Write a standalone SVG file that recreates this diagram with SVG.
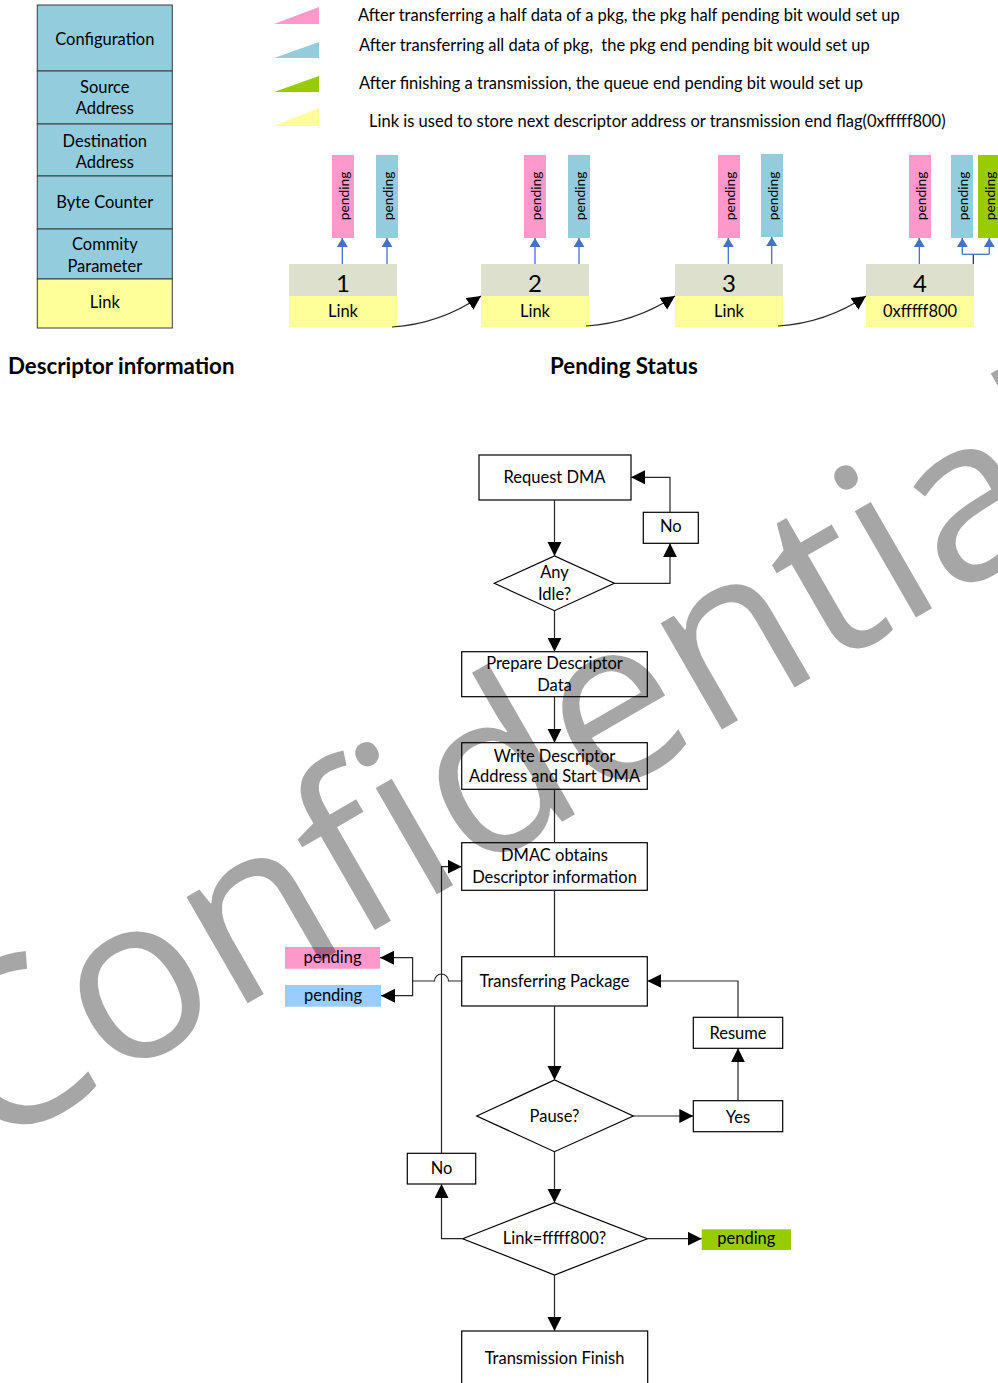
<svg xmlns="http://www.w3.org/2000/svg" width="998" height="1383" viewBox="0 0 998 1383">
<defs>
<style>
.t{font-family:Lato,'Open Sans',sans-serif;font-size:16.5px;fill:#000}
.c{text-anchor:middle}
.pl{font-size:13.8px}
.num{font-size:24px}
.b{font-weight:bold;font-size:22.3px}
.cell{stroke:#3a3a3a;stroke-width:1}
.blu{fill:#93CDDD}
.yel{fill:#FFFF99}
.pnk{fill:#FF99CC}
.grn{fill:#99CC00}
.top{fill:#DDE0CC}
.box{fill:#fff;stroke:#000;stroke-width:1.2}
.ln{fill:none;stroke:#262626;stroke-width:1.2}
.bl{fill:none;stroke:#4472C4;stroke-width:1.3}
.wm{font-family:'Open Sans',Lato,sans-serif;font-size:229px;fill:#000;fill-opacity:0.35}
</style>
<marker id="ah" markerUnits="userSpaceOnUse" markerWidth="15" markerHeight="15" refX="14" refY="7" orient="auto">
<path d="M0,0 L14,7 L0,14 z" fill="#000"/>
</marker>
<marker id="ahb" markerUnits="userSpaceOnUse" markerWidth="12" markerHeight="12" refX="9" refY="5.5" orient="auto">
<path d="M0,0 L9,5.5 L0,11 z" fill="#4472C4"/>
</marker>
</defs>
<rect width="998" height="1383" fill="#fff"/>

<!-- Descriptor table -->
<g id="desc-config"><rect class="cell blu" x="37.3" y="5" width="135" height="66"/><text class="t c" x="104.8" y="45">Configuration</text></g>
<g id="desc-source"><rect class="cell blu" x="37.3" y="71" width="135" height="53"/><text class="t c" x="104.8" y="92.7">Source</text><text class="t c" x="104.8" y="114.3">Address</text></g>
<g id="desc-dest"><rect class="cell blu" x="37.3" y="124" width="135" height="52"/><text class="t c" x="104.8" y="146.7">Destination</text><text class="t c" x="104.8" y="168.3">Address</text></g>
<g id="desc-byte"><rect class="cell blu" x="37.3" y="176" width="135" height="53"/><text class="t c" x="104.8" y="208.3">Byte Counter</text></g>
<g id="desc-commity"><rect class="cell blu" x="37.3" y="229" width="135" height="50"/><text class="t c" x="104.8" y="250">Commity</text><text class="t c" x="104.8" y="271.7">Parameter</text></g>
<g id="desc-link"><rect class="cell yel" x="37.3" y="279" width="135" height="49"/><text class="t c" x="104.8" y="308.3">Link</text></g>
<text class="t b" x="8" y="373.5">Descriptor information</text>

<!-- Legend -->
<g id="legend">
<path class="pnk" d="M274,24 L319,7 L319,24 z"/>
<path class="blu" d="M274,58 L319,42 L319,58 z"/>
<path class="grn" d="M274,92 L319,76 L319,92 z"/>
<path class="yel" d="M274,126 L319,108 L319,126 z"/>
<text class="t" x="358" y="21">After transferring a half data of a pkg, the pkg half pending bit would set up</text>
<text class="t" x="359" y="50.5" xml:space="preserve">After transferring all data of pkg,  the pkg end pending bit would set up</text>
<text class="t" x="359" y="88.5">After finishing a transmission, the queue end pending bit would set up</text>
<text class="t" x="369" y="126.5">Link is used to store next descriptor address or transmission end flag(0xfffff800)</text>
</g>

<!-- Pending status nodes -->
<g id="pkg1">
<rect class="top" x="289" y="264" width="108" height="32"/><rect class="yel" x="289" y="296" width="108" height="31"/>
<text class="t c num" x="343" y="292">1</text><text class="t c" x="343" y="317">Link</text>
<rect class="pnk" x="332" y="155" width="22" height="83"/><text class="t c pl" transform="translate(343,196) rotate(-90)" dominant-baseline="central">pending</text>
<rect class="blu" x="376" y="155" width="22" height="83"/><text class="t c pl" transform="translate(387,196) rotate(-90)" dominant-baseline="central">pending</text>
</g>
<g id="pkg2">
<rect class="top" x="481" y="264" width="108" height="32"/><rect class="yel" x="481" y="296" width="108" height="31"/>
<text class="t c num" x="535" y="292">2</text><text class="t c" x="535" y="317">Link</text>
<rect class="pnk" x="524" y="155" width="22" height="83"/><text class="t c pl" transform="translate(535,196) rotate(-90)" dominant-baseline="central">pending</text>
<rect class="blu" x="568" y="155" width="22" height="83"/><text class="t c pl" transform="translate(579,196) rotate(-90)" dominant-baseline="central">pending</text>
</g>
<g id="pkg3">
<rect class="top" x="675" y="264" width="108" height="32"/><rect class="yel" x="675" y="296" width="108" height="31"/>
<text class="t c num" x="729" y="292">3</text><text class="t c" x="729" y="317">Link</text>
<rect class="pnk" x="718" y="155" width="22" height="83"/><text class="t c pl" transform="translate(729,196) rotate(-90)" dominant-baseline="central">pending</text>
<rect class="blu" x="761" y="154" width="22" height="83"/><text class="t c pl" transform="translate(772,196) rotate(-90)" dominant-baseline="central">pending</text>
</g>
<g id="pkg4">
<rect class="top" x="866" y="264" width="108" height="32"/><rect class="yel" x="866" y="296" width="108" height="31"/>
<text class="t c num" x="920" y="292">4</text><text class="t c" x="920" y="317">0xfffff800</text>
<rect class="pnk" x="909" y="155" width="22" height="83"/><text class="t c pl" transform="translate(920,196) rotate(-90)" dominant-baseline="central">pending</text>
<rect class="blu" x="951" y="155" width="22" height="83"/><text class="t c pl" transform="translate(962,196) rotate(-90)" dominant-baseline="central">pending</text>
<rect class="grn" x="978" y="155" width="22" height="83"/><text class="t c pl" transform="translate(989,196) rotate(-90)" dominant-baseline="central">pending</text>
</g>
<text class="t b" x="550" y="374">Pending Status</text>

<!-- Flowchart nodes -->
<g id="request"><rect class="box" x="479" y="455" width="152" height="45"/><text class="t c" x="554.5" y="483.3">Request DMA</text></g>
<g id="anyidle"><polygon class="box" points="494.3,583.3 554.5,556 614.3,583.3 554.5,610.7"/><text class="t c" x="554.5" y="578.3">Any</text><text class="t c" x="554.5" y="600">Idle?</text></g>
<g id="no1"><rect class="box" x="643.3" y="512.3" width="55" height="31"/><text class="t c" x="670.8" y="532">No</text></g>
<g id="prepare"><rect class="box" x="461.7" y="651.7" width="185.6" height="45"/><text class="t c" x="554.5" y="669.3">Prepare Descriptor</text><text class="t c" x="554.5" y="690.7">Data</text></g>
<g id="write"><rect class="box" x="461.7" y="742.7" width="185.6" height="46.6"/><text class="t c" x="554.5" y="762">Write Descriptor</text><text class="t c" x="554.5" y="782.3">Address and Start DMA</text></g>
<g id="dmac"><rect class="box" x="461.7" y="842.7" width="185.6" height="47.6"/><text class="t c" x="554.5" y="861">DMAC obtains</text><text class="t c" x="554.5" y="882.7">Descriptor information</text></g>
<g id="transfer"><rect class="box" x="461.7" y="956.7" width="185.6" height="49.3"/><text class="t c" x="554.5" y="986.7">Transferring Package</text></g>
<g id="pend-half"><rect class="pnk" x="285" y="947" width="95" height="21.7"/><text class="t c" x="332.5" y="962.5">pending</text></g>
<g id="pend-end"><rect fill="#99CCFF" x="285" y="985" width="96" height="21.7"/><text class="t c" x="333" y="1000.7">pending</text></g>
<g id="resume"><rect class="box" x="693.3" y="1017.3" width="89.4" height="31"/><text class="t c" x="738" y="1039.3">Resume</text></g>
<g id="pause"><polygon class="box" points="476.7,1116 554.5,1080 633.3,1116 554.5,1151.7"/><text class="t c" x="554.5" y="1121.7">Pause?</text></g>
<g id="yes"><rect class="box" x="693.3" y="1100.7" width="89.4" height="31"/><text class="t c" x="738" y="1122.7">Yes</text></g>
<g id="linkcheck"><polygon class="box" points="462.7,1238.7 554.5,1202.7 647.3,1238.7 554.5,1275"/><text class="t c" x="554.5" y="1244.3">Link=fffff800?</text></g>
<g id="pend-queue"><rect class="grn" x="701.7" y="1229.3" width="89.3" height="20.7"/><text class="t c" x="746.3" y="1244.3">pending</text></g>
<g id="no2"><rect class="box" x="407.3" y="1153.3" width="68.4" height="30.7"/><text class="t c" x="441.5" y="1174">No</text></g>
<g id="finish"><rect class="box" x="461.7" y="1331" width="186" height="60"/><text class="t c" x="554.5" y="1364">Transmission Finish</text></g>

<!-- Connectors -->
<g id="connectors">
<path class="bl" d="M342.3,264 V238" marker-end="url(#ahb)"/>
<path class="bl" d="M387,264 V238" marker-end="url(#ahb)"/>
<path class="bl" d="M535,264 V238" marker-end="url(#ahb)"/>
<path class="bl" d="M579,264 V238" marker-end="url(#ahb)"/>
<path class="bl" d="M728.3,264 V238" marker-end="url(#ahb)"/>
<path class="bl" d="M771.7,264 V237" marker-end="url(#ahb)"/>
<path class="bl" d="M919.3,264 V238" marker-end="url(#ahb)"/>
<path class="ln" d="M973.3,264 V254.3"/>
<path class="bl" d="M962.3,254.3 H989.3"/>
<path class="bl" d="M962.3,254.3 V238" marker-end="url(#ahb)"/>
<path class="bl" d="M989.3,254.3 V238" marker-end="url(#ahb)"/>
<path class="ln" d="M392,327 Q440,324 481,296" marker-end="url(#ah)"/>
<path class="ln" d="M586,326 Q634,323 675,296" marker-end="url(#ah)"/>
<path class="ln" d="M778,326 Q826,323 866,296" marker-end="url(#ah)"/>

<path class="ln" d="M554.5,500 V556" marker-end="url(#ah)"/>
<path class="ln" d="M614.3,583.3 H670 V543.3" marker-end="url(#ah)"/>
<path class="ln" d="M670,512.3 V477.3 H631" marker-end="url(#ah)"/>
<path class="ln" d="M554.5,610.7 V651.7" marker-end="url(#ah)"/>
<path class="ln" d="M554.5,696.7 V742.7" marker-end="url(#ah)"/>
<path class="ln" d="M554.5,789.3 V842.7"/>
<path class="ln" d="M554.5,890.3 V956.7"/>
<path class="ln" d="M461.7,981 H448.5 A7,7 0 0 0 434.5,981 H412.6 V957.7 H380" marker-end="url(#ah)"/>
<path class="ln" d="M412.6,981 V995.7 H381" marker-end="url(#ah)"/>
<path class="ln" d="M554.5,1006 V1080" marker-end="url(#ah)"/>
<path class="ln" d="M633.3,1116 H693.3" marker-end="url(#ah)"/>
<path class="ln" d="M738,1100.7 V1048.3" marker-end="url(#ah)"/>
<path class="ln" d="M738,1017.3 V981 H647.3" marker-end="url(#ah)"/>
<path class="ln" d="M554.5,1151.7 V1202.7" marker-end="url(#ah)"/>
<path class="ln" d="M647.3,1238.7 H701.7" marker-end="url(#ah)"/>
<path class="ln" d="M462.7,1238.7 H441.5 V1184" marker-end="url(#ah)"/>
<path class="ln" d="M441.5,1153.3 V866.7 H461.7" marker-end="url(#ah)"/>
<path class="ln" d="M554.5,1275 V1331" marker-end="url(#ah)"/>
</g>

<!-- Watermark -->
<text class="wm" transform="translate(-15,1155) rotate(-30)" x="0" y="0" textLength="1300" lengthAdjust="spacing">Confidential</text>
</svg>
